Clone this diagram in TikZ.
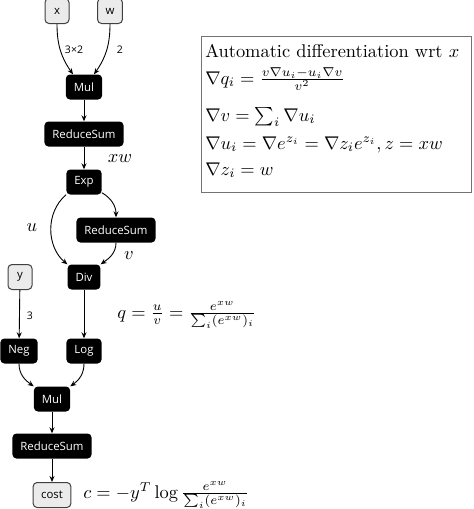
\documentclass[tikz,border=0pt]{standalone}
\usepackage{exscale}
\usepackage{fontspec}
\setsansfont{Open Sans}
\usetikzlibrary{arrows.meta}
\tikzset{
  op/.style={fill=black, text=white, rounded corners=4pt, minimum height=25pt,
    minimum width=24pt, inner xsep=8pt, inner ysep=0pt,
    font=\sffamily\fontsize{11.4}{13}\selectfont},
  var/.style={op, fill=black!8, draw=black!75, text=black, line width=1pt},
  edgelab/.style={font=\sffamily\fontsize{10.5}{12}\selectfont, inner sep=0pt},
  formula/.style={font=\fontsize{10}{12}\selectfont, scale=1.84, transform shape,
    inner sep=0pt, anchor=base west},
  flow/.style={->, line width=0.9pt},
}
\begin{document}
\begin{tikzpicture}[x=1pt,y=-1pt,>={Stealth[length=6pt,width=5pt]}]
\useasboundingbox (0,0) rectangle (474,509);

\node[var] (x) at (57,11) {x};
\node[var] (w) at (110,11) {w};
\node[op] (mul1) at (84,87) {Mul};
\node[op] (rs1) at (84,134) {ReduceSum};
\node[op] (exp) at (84,182) {Exp};
\node[op] (rs2) at (116,230) {ReduceSum};
\node[op] (div) at (84,277) {Div};
\node[var] (y) at (20,277) {y};
\node[op] (neg) at (19,351) {Neg};
\node[op] (log) at (84,351) {Log};
\node[op] (mul2) at (52,399) {Mul};
\node[op] (rs3) at (52,446) {ReduceSum};
\node[var] (cost) at (52,495) {cost};

\draw[flow] (x.south) to[out=-90,in=125] ([xshift=-11pt]mul1.north);
\draw[flow] (w.south) to[out=-90,in=55] ([xshift=10pt]mul1.north);
\draw[flow] (mul1) -- (rs1);
\draw[flow] (rs1) -- (exp);
\draw[flow] ([yshift=2pt]exp.south east) to[out=-30,in=90] (rs2.north);
\draw[flow] (exp.south west) to[out=-140,in=140] (div.north west);
\draw[flow] (rs2.south) to[out=-90,in=35] (div.north east);
\draw[flow] (y) -- (neg);
\draw[flow] (div) -- (log);
\draw[flow] (neg.south) to[out=-90,in=145] (mul2.north west);
\draw[flow] (log.south) to[out=-90,in=35] (mul2.north east);
\draw[flow] (mul2) -- (rs3);
\draw[flow] (rs3) -- (cost);

\node[edgelab] (l32) at (74,50) {3×2};
\node[edgelab] (l2) at (120,50) {2};
\node[edgelab] (l3) at (30,316) {3};
\node[formula, anchor=center] (lxw) at (120,159) {$xw$};
\node[formula, anchor=center] (lu) at (32,228) {$u$};
\node[formula, anchor=center] (lv) at (129,256) {$v$};

\node[formula] (qdef) at (117,318) {$q=\frac{u}{v}=\frac{e^{xw}}{\sum_i (e^{xw})_i}$};
\node[formula] (cdef) at (83,498) {$c=-y^T\log\frac{e^{xw}}{\sum_i (e^{xw})_i}$};

\node[draw=black!55, line width=1.2pt, minimum width=270pt, minimum height=156pt,
  anchor=north west] (autodiff) at (201,36) {};
\node[formula] (g0) at (205,57) {Automatic differentiation wrt $x$};
\node[formula] (g1) at (205,84) {$\nabla q_i=\frac{v\nabla u_i-u_i\nabla v}{v^2}$};
\node[formula] (g2) at (205,121) {$\nabla v=\sum_i\nabla u_i$};
\node[formula] (g3) at (205,149) {$\nabla u_i=\nabla e^{z_i}=\nabla z_i e^{z_i}, z=xw$};
\node[formula] (g4) at (205,175) {$\nabla z_i=w$};
\end{tikzpicture}
\end{document}
